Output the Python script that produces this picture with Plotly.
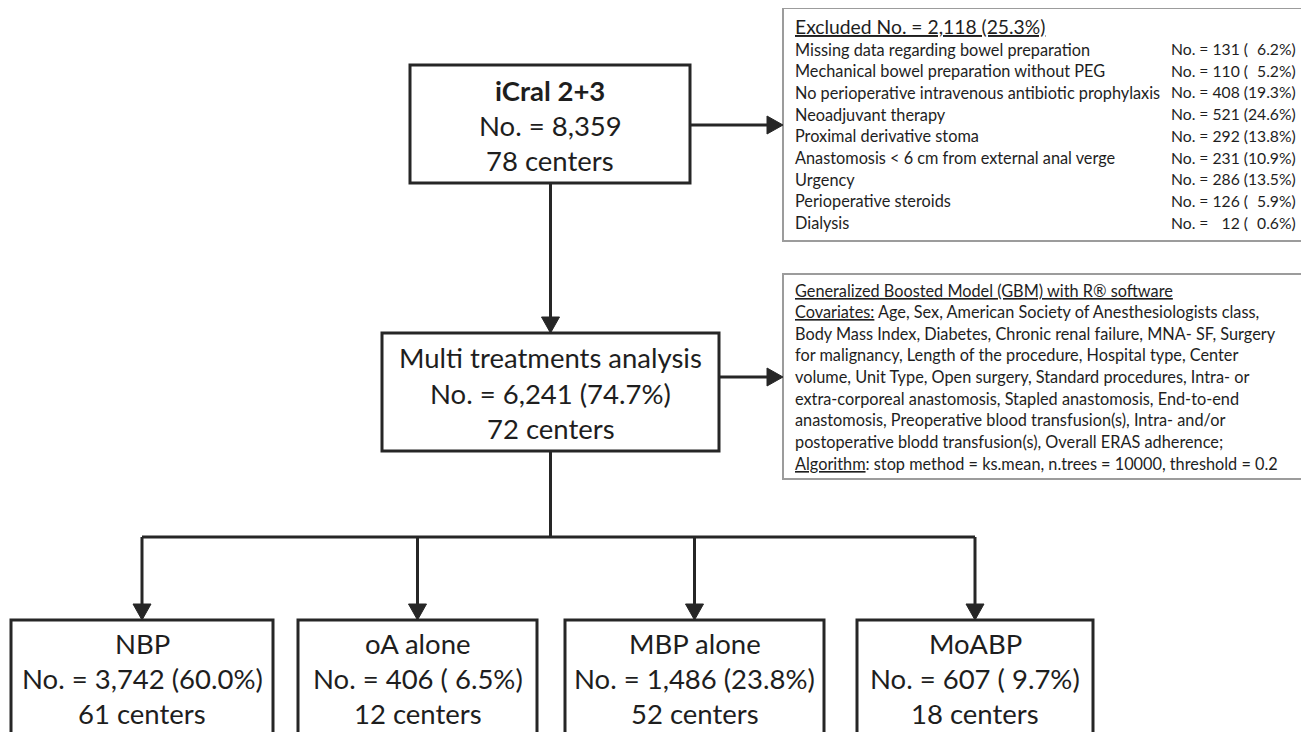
import plotly.graph_objects as go

# ---------------- data ----------------
cohort_name = "iCral 2+3"
cohort_n = 8359
cohort_centers = 78

excluded_n = 2118
excluded_pct = 25.3
exclusion_reasons = [
    "Missing data regarding bowel preparation",
    "Mechanical bowel preparation without PEG",
    "No perioperative intravenous antibiotic prophylaxis",
    "Neoadjuvant therapy",
    "Proximal derivative stoma",
    "Anastomosis < 6 cm from external anal verge",
    "Urgency",
    "Perioperative steroids",
    "Dialysis",
]
exclusion_counts = [131, 110, 408, 521, 292, 231, 286, 126, 12]
exclusion_pcts = [6.2, 5.2, 19.3, 24.6, 13.8, 10.9, 13.5, 5.9, 0.6]

analysis_name = "Multi treatments analysis"
analysis_n = 6241
analysis_pct = 74.7
analysis_centers = 72

gbm_title = "Generalized Boosted Model (GBM) with R® software"
gbm_lines = [
    ("Covariates:", " Age, Sex, American Society of Anesthesiologists class,"),
    ("", "Body Mass Index, Diabetes, Chronic renal failure, MNA- SF, Surgery"),
    ("", "for malignancy, Length of the procedure, Hospital type, Center"),
    ("", "volume, Unit Type, Open surgery, Standard procedures, Intra- or"),
    ("", "extra-corporeal anastomosis, Stapled anastomosis, End-to-end"),
    ("", "anastomosis, Preoperative blood transfusion(s), Intra- and/or"),
    ("", "postoperative blodd transfusion(s), Overall ERAS adherence;"),
    ("Algorithm", ": stop method = ks.mean, n.trees = 10000, threshold = 0.2"),
]

groups = ["NBP", "oA alone", "MBP alone", "MoABP"]
group_n = [3742, 406, 1486, 607]
group_pct = [60.0, 6.5, 23.8, 9.7]
group_centers = [61, 12, 52, 18]

# ---------------- layout geometry (page pixels) ----------------
PAGE_W, PAGE_H = 1309, 732
OFF = 8  # default body margin of the html page
FONT = "Lato"
TXT = "#1e1e1e"
DARK = "#262626"
GREY = "#9c9c9c"
FS_BIG = 27.5
FS_SMALL = 16.3
FS_VALUE = 15.7
FS_TITLE = 19.3

box_cohort = dict(x0=410, x1=690, y0=65, y1=183)
box_analysis = dict(x0=382, x1=719, y0=333, y1=451)
box_excl = dict(x0=783, x1=1307, y0=8, y1=241)
box_gbm = dict(x0=783, x1=1307, y0=274, y1=479)
group_boxes = [(11, 273), (298, 537), (565, 824), (857, 1093)]
group_y0, group_y1 = 620, 760
branch_y = 537
arrow_len, arrow_half = 16, 9

fig = go.Figure()
shapes = []
ann = []


def rect(b, color, width):
    shapes.append(dict(type="rect", xref="x", yref="y", x0=b["x0"], x1=b["x1"], y0=b["y0"], y1=b["y1"],
                       line=dict(color=color, width=width), fillcolor="rgba(0,0,0,0)", layer="above"))


def line(x0, y0, x1, y1):
    shapes.append(dict(type="line", xref="x", yref="y", x0=x0, y0=y0, x1=x1, y1=y1,
                       line=dict(color=DARK, width=3), layer="above"))


def arrow(x0, y0, x1, y1):
    # line plus filled triangular head pointing at (x1, y1)
    if y0 == y1:
        d = 1 if x1 > x0 else -1
        line(x0, y0, x1 - d * arrow_len, y1)
        path = f"M {x1},{y1} L {x1 - d*arrow_len},{y1 - arrow_half} L {x1 - d*arrow_len},{y1 + arrow_half} Z"
    else:
        d = 1 if y1 > y0 else -1
        line(x0, y0, x1, y1 - d * arrow_len)
        path = f"M {x1},{y1} L {x1 - arrow_half},{y1 - d*arrow_len} L {x1 + arrow_half},{y1 - d*arrow_len} Z"
    shapes.append(dict(type="path", xref="x", yref="y", path=path, fillcolor=DARK,
                       line=dict(color=DARK, width=1), layer="above"))


def text(x, y, s, size, anchor="center"):
    ann.append(dict(x=x, y=y, xref="x", yref="y", text=s, showarrow=False, xanchor=anchor,
                    yanchor="middle", font=dict(family=FONT, size=size, color=TXT)))


def ul(s):
    return f'<span style="text-decoration:underline">{s}</span>'


FIG_SP = "\u2007"


def pct_str(p):
    s = f"{p:.1f}"
    return FIG_SP * (4 - len(s)) + s


# boxes
rect(box_cohort, DARK, 3)
rect(box_analysis, DARK, 3)
rect(box_excl, GREY, 2)
rect(box_gbm, GREY, 2)
for (x0, x1) in group_boxes:
    rect(dict(x0=x0, x1=x1, y0=group_y0, y1=group_y1), DARK, 3)

# connectors
cx = (box_analysis["x0"] + box_analysis["x1"]) / 2
cy_cohort = 125
cy_analysis = 377
arrow(box_cohort["x1"], cy_cohort, box_excl["x0"], cy_cohort)
arrow(cx, box_cohort["y1"], cx, box_analysis["y0"])
arrow(box_analysis["x1"], cy_analysis, box_gbm["x0"], cy_analysis)
gcx = [(a + b) / 2 for a, b in group_boxes]
line(cx, box_analysis["y1"], cx, branch_y)
line(gcx[0], branch_y, gcx[-1], branch_y)
for g in gcx:
    arrow(g, branch_y, g, group_y0)

# cohort text
ccx = (box_cohort["x0"] + box_cohort["x1"]) / 2
text(ccx, 90, f"<b>{cohort_name}</b>", FS_BIG)
text(ccx, 125, f"No. = {cohort_n:,}", FS_BIG)
text(ccx, 160, f"{cohort_centers} centers", FS_BIG)

# analysis text
text(cx, 357, analysis_name, FS_BIG)
text(cx, 393, f"No. = {analysis_n:,} ({analysis_pct:.1f}%)", FS_BIG)
text(cx, 428, f"{analysis_centers} centers", FS_BIG)

# groups text
for g, name, n, p, c in zip(gcx, groups, group_n, group_pct, group_centers):
    text(g, 643, name, FS_BIG)
    text(g, 678, f"No. = {n:,} ({pct_str(p)}%)".replace(f"({FIG_SP}", "( "), FS_BIG)
    text(g, 713, f"{c} centers", FS_BIG)

# excluded box
tx = box_excl["x0"] + 10
text(tx, 26, ul(f"Excluded No. = {excluded_n:,} ({excluded_pct:.1f}%)"), FS_TITLE, "left")
for i, (r, n, p) in enumerate(zip(exclusion_reasons, exclusion_counts, exclusion_pcts)):
    y = 49 + i * 21.7
    text(tx, y, r, FS_SMALL, "left")
    cnt = FIG_SP * (3 - len(str(n))) + str(n)
    text(1298, y, f"No. = {cnt} ({pct_str(p)}%)", FS_VALUE, "right")

# GBM box
text(tx, 290, ul(gbm_title), FS_SMALL, "left")
for i, (u, rest) in enumerate(gbm_lines):
    y = 290 + (i + 1) * 21.65
    s = (ul(u) if u else "") + rest
    text(tx, y, s, FS_SMALL, "left")

fig.update_layout(
    width=PAGE_W - OFF, height=PAGE_H - OFF, margin=dict(l=0, r=0, t=0, b=0),
    paper_bgcolor="white", plot_bgcolor="white",
    xaxis=dict(range=[OFF, PAGE_W], visible=False, fixedrange=True),
    yaxis=dict(range=[PAGE_H, OFF], visible=False, fixedrange=True),
    shapes=shapes, annotations=ann, showlegend=False,
)
fig.write_html("out.html")
